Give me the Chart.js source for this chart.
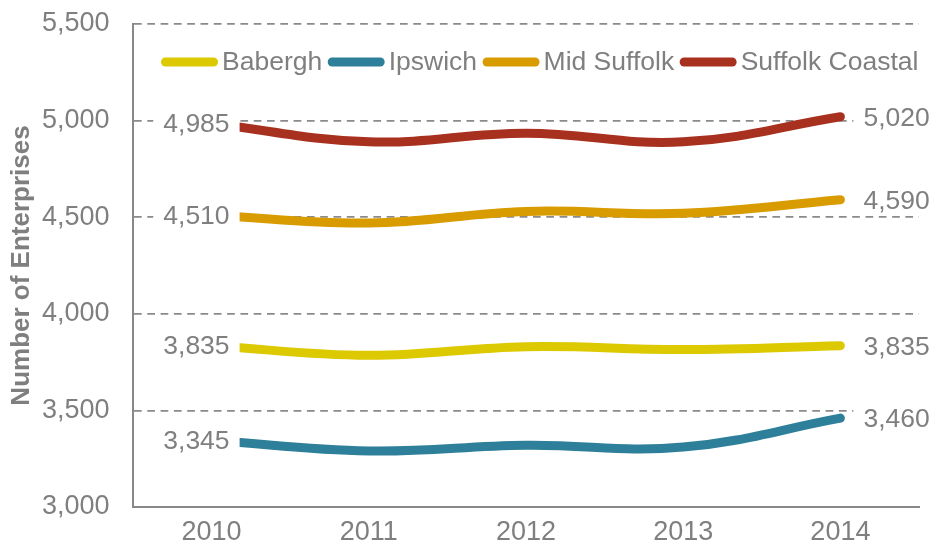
<!DOCTYPE html>
<html>
<head>
<meta charset="utf-8">
<script src="https://cdn.jsdelivr.net/npm/chart.js@4/dist/chart.umd.min.js"></script>
<style>
html,body{margin:0;padding:0;background:#fff;}
#wrap{width:931px;height:548px;position:relative;}
</style>
</head>
<body>
<div id="wrap"><canvas id="c" width="931" height="548"></canvas></div>
<script>
const categories = ['2010', '2011', '2012', '2013', '2014'];
const seriesNames = ['Babergh', 'Ipswich', 'Mid Suffolk', 'Suffolk Coastal'];
const babergh = [3835, 3785, 3830, 3815, 3835];
const ipswich = [3345, 3290, 3320, 3310, 3460];
const midSuffolk = [4510, 4470, 4530, 4520, 4590];
const suffolkCoastal = [4985, 4890, 4935, 4890, 5020];
const yTicks = [3000, 3500, 4000, 4500, 5000, 5500];
const seriesColors = ['#DDC900', '#2E7F99', '#D89B00', '#A8301F'];

const FONT = '"Liberation Sans", Arial, sans-serif';
const GRAY = '#7f7f7f';

const labelPlugin = {
  id: 'endLabels',
  afterDatasetsDraw(chart) {
    const ctx = chart.ctx;
    ctx.save();
    ctx.font = '26.5px ' + FONT;
    ctx.textBaseline = 'middle';
    chart.data.datasets.forEach((ds, i) => {
      const meta = chart.getDatasetMeta(i);
      const first = meta.data[0], last = meta.data[meta.data.length - 1];
      const fTxt = ds.data[0].toLocaleString('en-US');
      const lTxt = ds.data[ds.data.length - 1].toLocaleString('en-US');
      let w = ctx.measureText(fTxt).width;
      let right = first.x + 18;
      ctx.fillStyle = '#ffffff';
      ctx.fillRect(right - w - 10, first.y - 15, w + 20, 30);
      ctx.fillStyle = GRAY;
      ctx.textAlign = 'right';
      ctx.fillText(fTxt, right, first.y + 1);
      w = ctx.measureText(lTxt).width;
      let left = last.x + 23;
      ctx.fillStyle = '#ffffff';
      ctx.fillRect(last.x + 13, last.y - 15, w + 22, 30);
      ctx.fillStyle = GRAY;
      ctx.textAlign = 'left';
      ctx.fillText(lTxt, left, last.y + 2);
    });
    ctx.restore();
  }
};

const legendPlugin = {
  id: 'customLegend',
  afterDraw(chart) {
    const ctx = chart.ctx;
    ctx.save();
    ctx.font = '26.5px ' + FONT;
    ctx.textBaseline = 'middle';
    ctx.textAlign = 'left';
    let x = chart.chartArea.left + 28;
    const y = chart.chartArea.top + 38;
    chart.data.datasets.forEach((ds) => {
      ctx.strokeStyle = ds.borderColor;
      ctx.lineWidth = 9;
      ctx.lineCap = 'round';
      ctx.beginPath();
      ctx.moveTo(x + 4.5, y);
      ctx.lineTo(x + 52.5, y);
      ctx.stroke();
      ctx.fillStyle = GRAY;
      ctx.fillText(ds.label, x + 61, y + 1);
      x += 61 + ctx.measureText(ds.label).width + 5.5;
    });
    ctx.restore();
  }
};

const allSeries = [babergh, ipswich, midSuffolk, suffolkCoastal];

new Chart(document.getElementById('c'), {
  type: 'line',
  data: {
    labels: categories,
    datasets: allSeries.map((d, i) => ({
      label: seriesNames[i],
      data: d,
      borderColor: seriesColors[i],
      backgroundColor: seriesColors[i],
      borderWidth: 9,
      borderCapStyle: 'round',
      borderJoinStyle: 'round',
      tension: 0.4,
      pointRadius: 0,
      fill: false
    }))
  },
  options: {
    responsive: false,
    animation: false,
    layout: { padding: { top: 0, right: 12, left: 0, bottom: 0 } },
    plugins: {
      legend: { display: false },
      tooltip: { enabled: false }
    },
    scales: {
      x: {
        offset: true,
        grid: { display: false, drawTicks: false },
        border: { display: true, color: '#888888', width: 2 },
        ticks: { color: GRAY, font: { family: FONT, size: 27 }, padding: 9 },
        afterFit(s) { s.height = 41; }
      },
      y: {
        min: 3000,
        max: 5500,
        afterBuildTicks(s) { s.ticks = yTicks.map(v => ({ value: v })); },
        grid: {
          drawTicks: false,
          lineWidth: 1.8,
          color: (c) => (c.tick && c.tick.value === 3000) ? 'rgba(0,0,0,0)' : '#8a8a8a'
        },
        border: { display: true, color: '#888888', width: 2, dash: [7.7, 5.6] },
        ticks: {
          color: GRAY,
          font: { family: FONT, size: 27, lineHeight: '1px' },
          padding: 23.5,
          callback: (v) => Number(v).toLocaleString('en-US')
        },
        title: {
          display: true,
          text: 'Number of Enterprises',
          color: GRAY,
          font: { family: FONT, size: 26, weight: 'bold' },
          padding: { top: 6, bottom: 0 }
        },
        afterFit(s) { s.width = 133; }
      }
    }
  },
  plugins: [labelPlugin, legendPlugin]
});
</script>
</body>
</html>
